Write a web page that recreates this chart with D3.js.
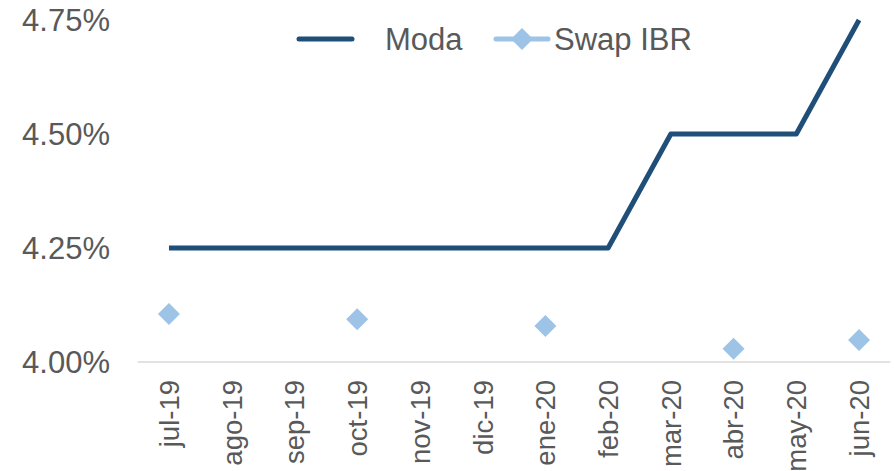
<!DOCTYPE html>
<html>
<head>
<meta charset="utf-8">
<script src="https://cdn.jsdelivr.net/npm/d3@7"></script>
<style>
body { margin: 0; background: #fff; }
text { font-family: "Liberation Sans", Arial, sans-serif; fill: #595959; }
</style>
</head>
<body>
<svg id="chart" width="894" height="471"></svg>
<script>
var months = ['jul-19','ago-19','sep-19','oct-19','nov-19','dic-19','ene-20','feb-20','mar-20','abr-20','may-20','jun-20'];
var moda = [4.25,4.25,4.25,4.25,4.25,4.25,4.25,4.25,4.50,4.50,4.50,4.75];
var swapMonths = ['jul-19','oct-19','ene-20','abr-20','jun-20'];
var swapValues = [4.105,4.094,4.079,4.029,4.048];
var yTicks = [4.00,4.25,4.50,4.75];

var svg = d3.select('#chart');

var x = d3.scalePoint().domain(months).range([137.6, 890.4]).padding(0.5);
var y = d3.scaleLinear().domain([4.0, 4.75]).range([362, 20]);

// y labels
svg.append('g').selectAll('text')
	.data(yTicks)
	.enter().append('text')
	.attr('x', 110)
	.attr('y', function(d){ return y(d); })
	.attr('dy', '0.36em')
	.attr('text-anchor', 'end')
	.style('font-size', '31px')
	.text(function(d){ return d.toFixed(2) + '%'; });

// x axis line
svg.append('line')
	.attr('x1', 137.6).attr('x2', 890.4)
	.attr('y1', y(4.0)).attr('y2', y(4.0))
	.attr('stroke', '#d9d9d9')
	.attr('stroke-width', 1.5);

// x labels
svg.append('g').selectAll('text')
	.data(months)
	.enter().append('text')
	.attr('transform', function(d){ return 'translate(' + x(d) + ',380) rotate(-90)'; })
	.attr('dy', '0.36em')
	.attr('text-anchor', 'end')
	.style('font-size', '27.5px')
	.text(function(d){ return d; });

// moda line
var line = d3.line()
	.x(function(d, i){ return x(months[i]); })
	.y(function(d){ return y(d); });

svg.append('path')
	.datum(moda)
	.attr('d', line)
	.attr('fill', 'none')
	.attr('stroke', '#1F4E79')
	.attr('stroke-width', 5)
	.attr('stroke-linejoin', 'round');

// swap markers
var diamond = d3.symbol().type(d3.symbolSquare).size(242);
svg.append('g').selectAll('path')
	.data(swapValues)
	.enter().append('path')
	.attr('d', diamond)
	.attr('transform', function(d, i){ return 'translate(' + x(swapMonths[i]) + ',' + y(d) + ') rotate(45)'; })
	.attr('fill', '#9DC3E6');

// legend
var legend = svg.append('g');
legend.append('line')
	.attr('x1', 299).attr('x2', 352)
	.attr('y1', 39).attr('y2', 39)
	.attr('stroke', '#1F4E79')
	.attr('stroke-width', 5)
	.attr('stroke-linecap', 'round');
legend.append('text')
	.attr('x', 385).attr('y', 39)
	.attr('dy', '0.36em')
	.style('font-size', '31px')
	.text('Moda');
legend.append('line')
	.attr('x1', 496).attr('x2', 548)
	.attr('y1', 39).attr('y2', 39)
	.attr('stroke', '#9DC3E6')
	.attr('stroke-width', 5)
	.attr('stroke-linecap', 'round');
legend.append('path')
	.attr('d', diamond)
	.attr('transform', 'translate(522,39) rotate(45)')
	.attr('fill', '#9DC3E6');
legend.append('text')
	.attr('x', 554).attr('y', 39)
	.attr('dy', '0.36em')
	.style('font-size', '31px')
	.text('Swap IBR');
</script>
</body>
</html>
